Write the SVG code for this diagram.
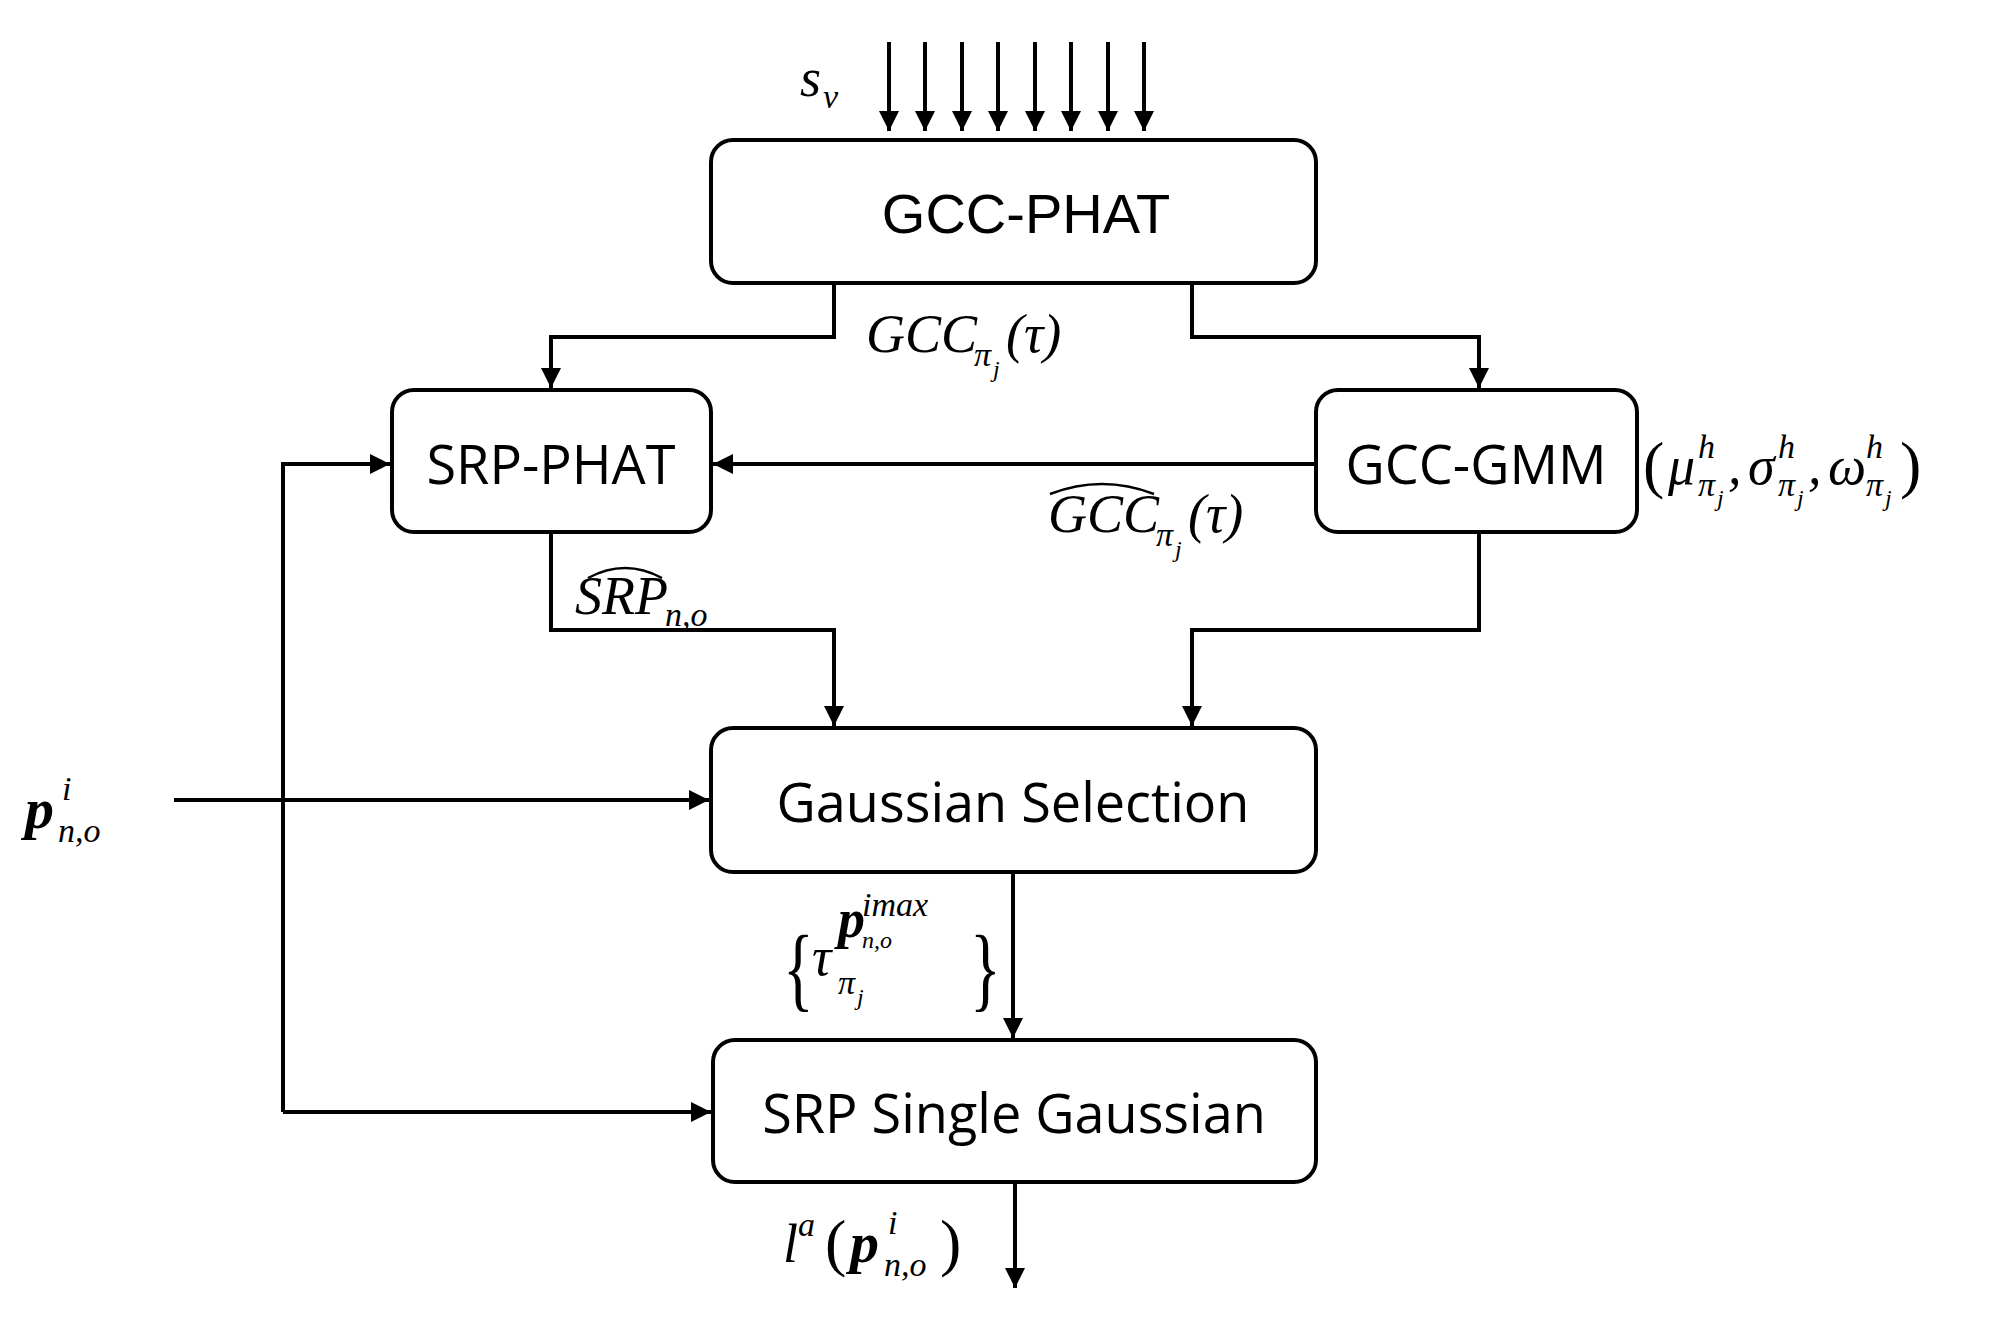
<svg xmlns="http://www.w3.org/2000/svg" width="1997" height="1334" viewBox="0 0 1997 1334">
<style>
.box{fill:#fff;stroke:#000;stroke-width:4}
.t{font-family:"Liberation Sans",Arial,sans-serif;font-size:56px;text-anchor:middle;fill:#000}
.ts{font-family:"Open Sans","DejaVu Sans",sans-serif;font-size:54px;text-anchor:middle;fill:#000}
text.m,text.b,text.n{font-family:"Liberation Serif","DejaVu Serif",serif;fill:#000}
.m{font-style:italic;font-size:54px}
.b{font-style:italic;font-weight:bold;font-size:58px}
.n{font-size:64px}
.s{font-size:34px}
.ss{font-size:24px}
.c{fill:none;stroke:#000;stroke-width:4;marker-end:url(#a)}
.hat{fill:none;stroke:#000;stroke-width:2.5}
</style>
<defs><marker id="a" viewBox="0 0 10 10" refX="10" refY="5" markerWidth="5" markerHeight="5" orient="auto" markerUnits="strokeWidth"><path d="M0,0L10,5L0,10z" fill="#000"/></marker></defs>
<rect width="1997" height="1334" fill="#fff"/>
<g id="connectors">
<path class="c" d="M889,42V131"/><path class="c" d="M925,42V131"/><path class="c" d="M962,42V131"/><path class="c" d="M998,42V131"/>
<path class="c" d="M1035,42V131"/><path class="c" d="M1071,42V131"/><path class="c" d="M1108,42V131"/><path class="c" d="M1144,42V131"/>
<path class="c" d="M834,283V337H551V388"/>
<path class="c" d="M1192,283V337H1479V388"/>
<path class="c" d="M1316,464H713"/>
<path class="c" d="M551,532V630H834V726"/>
<path class="c" d="M1479,532V630H1192V726"/>
<path class="c" d="M174,800H709"/>
<path class="c" d="M283,1112V464H390"/>
<path class="c" d="M283,1112H711"/>
<path class="c" d="M1013,872V1038"/>
<path class="c" d="M1015,1182V1288"/>
</g>
<g id="gccphat"><rect class="box" x="711" y="140" width="605" height="143" rx="22"/><text class="t" x="1026" y="233" font-size="62">GCC-PHAT</text></g>
<g id="srpphat"><rect class="box" x="392" y="390" width="319" height="142" rx="22"/><text class="ts" x="551" y="484" font-size="56">SRP-PHAT</text></g>
<g id="gccgmm"><rect class="box" x="1316" y="390" width="321" height="142" rx="22"/><text class="ts" x="1476" y="484" font-size="56">GCC-GMM</text></g>
<g id="gausssel"><rect class="box" x="711" y="728" width="605" height="144" rx="22"/><text class="ts" x="1013" y="822">Gaussian Selection</text></g>
<g id="srpsingle"><rect class="box" x="713" y="1040" width="603" height="142" rx="22"/><text class="ts" x="1014" y="1133">SRP Single Gaussian</text></g>
<g id="labels">
<text class="m" x="800" y="96">s</text><text class="m s" x="823" y="108">ν</text>
<text class="m" x="866" y="352">GCC</text><text class="m s" x="974" y="366">π</text><text class="m ss" x="993" y="377">j</text><text class="m" x="1006" y="352">(τ)</text>
<text class="m" x="1048" y="532">GCC</text><text class="m s" x="1156" y="546">π</text><text class="m ss" x="1175" y="557">j</text><text class="m" x="1188" y="532">(τ)</text>
<path class="hat" d="M1050,494Q1102,474 1154,494"/>
<text class="m" x="575" y="614">SRP</text><text class="m s" x="665" y="626">n,o</text>
<path class="hat" d="M588,578Q625,558 662,578"/>
<text class="n" x="1643" y="486">(</text>
<text class="m" x="1668" y="484">μ</text><text class="m s" x="1698" y="458">h</text><text class="m s" x="1698" y="496">π</text><text class="m ss" x="1717" y="506">j</text><text class="m" x="1728" y="484">,</text>
<text class="m" x="1748" y="484">σ</text><text class="m s" x="1778" y="458">h</text><text class="m s" x="1778" y="496">π</text><text class="m ss" x="1797" y="506">j</text><text class="m" x="1808" y="484">,</text>
<text class="m" x="1828" y="484">ω</text><text class="m s" x="1866" y="458">h</text><text class="m s" x="1866" y="496">π</text><text class="m ss" x="1885" y="506">j</text>
<text class="n" x="1900" y="486">)</text>
<text class="b" x="25" y="828">p</text><text class="m s" x="62" y="800">i</text><text class="m s" x="58" y="842">n,o</text>
<text class="n" x="783" y="0" font-size="90" transform="translate(0,1000) scale(1,1.45)">{</text>
<text class="m" x="812" y="975" font-size="58">τ</text><text class="m s" x="838" y="994">π</text><text class="m ss" x="857" y="1005">j</text>
<text class="m" x="838" y="937" font-size="40" font-weight="bold">p</text><text class="m ss" x="862" y="948">n,o</text><text class="m s" x="862" y="916">imax</text>
<text class="n" x="970" y="0" font-size="90" transform="translate(0,1000) scale(1,1.45)">}</text>
<text class="m" x="783" y="1262">l</text><text class="m s" x="798" y="1236">a</text><text class="n" x="825" y="1264" font-size="58">(</text>
<text class="b" x="850" y="1262">p</text><text class="m s" x="888" y="1234">i</text><text class="m s" x="884" y="1276">n,o</text><text class="n" x="940" y="1264" font-size="58">)</text>
</g>
</svg>
